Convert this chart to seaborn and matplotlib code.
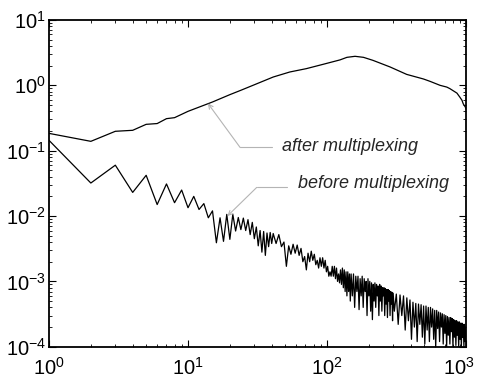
import numpy as np
import pandas as pd
import matplotlib
matplotlib.use("Agg")
import matplotlib.pyplot as plt
import matplotlib.transforms as mtransforms
import seaborn as sns

# ---------------------------------------------------
# data
# ---------------------------------------------------
after_x = [1, 2, 3, 4, 5, 6, 7, 8, 10, 15, 20, 24, 30, 41, 54, 71, 94, 124, 139, 159,
           183, 214, 284, 374, 494, 551, 650, 727, 765, 860, 902, 935, 955, 985, 1000]
after_y = [0.184, 0.139, 0.198, 0.205, 0.253, 0.26, 0.309, 0.32, 0.40, 0.556, 0.72,
           0.84, 1.02, 1.34, 1.6, 1.8, 2.1, 2.45, 2.68, 2.78, 2.68, 2.41, 1.91, 1.47,
           1.25, 1.15, 1.0, 0.94, 0.89, 0.76, 0.66, 0.59, 0.52, 0.47, 0.44]

# before multiplexing: sample index ranges and the values read in each range
before_x1 = np.arange(1, 41)
before_y1 = [0.144, 0.032, 0.060, 0.023, 0.042, 0.015, 0.031, 0.016, 0.025, 0.0134,
             0.020, 0.0126, 0.0155, 0.0094, 0.012, 0.0039, 0.0094, 0.0041, 0.0106, 0.0044,
             0.0106, 0.0059, 0.0095, 0.0062, 0.0093, 0.0060, 0.0088, 0.0052, 0.0080, 0.0045,
             0.0068, 0.0035, 0.0060, 0.0028, 0.0058, 0.0025, 0.0055, 0.0034, 0.0056, 0.0038]

before_x2 = np.arange(41, 150, 2)
before_y2 = [0.0054, 0.0038, 0.0052, 0.0034, 0.0040, 0.0017, 0.0035, 0.0026, 0.0037, 0.0027,
             0.0036, 0.0025, 0.0032, 0.0020, 0.0024, 0.0015, 0.0027, 0.0020, 0.0029, 0.0021,
             0.0026, 0.0018, 0.0021, 0.0016, 0.0023, 0.0017, 0.0023, 0.0016, 0.0021, 0.0014,
             0.0017, 0.0012, 0.0014, 0.0012, 0.0017, 0.0012, 0.0017, 0.0011, 0.0016, 0.0010,
             0.0013, 0.00095, 0.0015, 0.0009, 0.0016, 0.0008, 0.0015, 0.0007, 0.0014, 0.0006,
             0.0014, 0.0007, 0.0013, 0.0005, 0.0013]

before_x3 = np.arange(152, 300, 3)
before_y3 = [0.0006, 0.0013, 0.0004, 0.0012, 0.0007, 0.0012, 0.00037, 0.0011, 0.0006, 0.0012,
             0.0004, 0.0011, 0.0007, 0.0010, 0.0003, 0.0011, 0.0006, 0.0010, 0.00035, 0.00095,
             0.00026, 0.0009, 0.0005, 0.00095, 0.0004, 0.0009, 0.0006, 0.00085, 0.0003, 0.0009,
             0.0005, 0.00085, 0.00035, 0.0008, 0.0006, 0.0008, 0.0003, 0.00078, 0.00045, 0.00075,
             0.00028, 0.00075, 0.0005, 0.00072, 0.0003, 0.0007, 0.00045, 0.00068, 0.00025, 0.00066]

before_x4 = np.append(np.arange(305, 1000, 10), 1000)
before_y4 = [0.00035, 0.00064, 0.00022, 0.00062, 0.0003, 0.0006, 0.00018, 0.00056, 0.00025, 0.00052,
             0.00013, 0.00048, 0.0002, 0.00046, 0.00012, 0.00045, 0.00022, 0.00044, 0.00014, 0.00042,
             0.00011, 0.00042, 0.00018, 0.0004, 0.00012, 0.0004, 0.0002, 0.00038, 0.00013, 0.00036,
             0.0001, 0.00036, 0.00019, 0.00034, 0.00012, 0.00033, 0.0002, 0.00032, 0.00011, 0.00031,
             0.00016, 0.0003, 0.0001, 0.00029, 0.00015, 0.00028, 0.00011, 0.00028, 0.00017, 0.00027,
             0.0001, 0.00026, 0.00014, 0.00025, 0.000105, 0.00025, 0.00015, 0.00024, 0.0001, 0.00024,
             0.00013, 0.00023, 0.0001, 0.00023, 0.00014, 0.00022, 0.0001, 0.00022, 0.00012, 0.0002,
             0.00015]

label_after = "after multiplexing"
label_before = "before multiplexing"

# ---------------------------------------------------
# table for seaborn
# ---------------------------------------------------
before_x = np.concatenate([before_x1, before_x2, before_x3, before_x4])
before_y = np.concatenate([before_y1, before_y2, before_y3, before_y4])

df = pd.concat([
    pd.DataFrame({"freq": after_x, "amp": after_y, "series": "after"}),
    pd.DataFrame({"freq": before_x, "amp": before_y, "series": "before"}),
], ignore_index=True)

sns.set_style("ticks")
plt.rcParams["font.family"] = ["Liberation Sans", "DejaVu Sans"]
plt.rcParams["mathtext.fontset"] = "custom"
plt.rcParams["mathtext.rm"] = "Liberation Sans"
plt.rcParams["mathtext.it"] = "Liberation Sans:italic"

fig = plt.figure(figsize=(4.78, 3.84), dpi=100)
ax = fig.add_axes([0.1025, 0.097, 0.8725, 0.851])

sns.lineplot(data=df, x="freq", y="amp", hue="series",
             palette={"after": "black", "before": "black"},
             estimator=None, sort=False, legend=False, lw=0.9, ax=ax)

ax.set_xscale("log")
ax.set_yscale("log")
ax.set_xlim(1, 1000)
ax.set_ylim(1e-4, 10)
ax.set_xlabel("")
ax.set_ylabel("")

for side in ["top", "right", "left", "bottom"]:
    ax.spines[side].set_visible(True)
    ax.spines[side].set_linewidth(1.3)
    ax.spines[side].set_color("black")

ax.tick_params(which="both", direction="in", top=True, right=True, colors="black")
ax.tick_params(which="major", length=5, width=0.8, labelsize=14.5)
ax.tick_params(which="minor", length=2.5, width=0.6)
ax.tick_params(axis="x", which="major", pad=7)
ax.tick_params(axis="y", which="major", pad=2)

# last x label sits a little to the left so it stays inside the figure
fig.canvas.draw()
shift = mtransforms.ScaledTranslation(-7 / 100, 0, fig.dpi_scale_trans)
for lab in ax.get_xticklabels():
    if "3" in lab.get_text():
        lab.set_transform(lab.get_transform() + shift)

# leader lines with small arrow heads
gray = "#b4b4b4"
ax.annotate("", xy=(13.9, 0.53), xytext=(23.7, 0.112),
            arrowprops=dict(arrowstyle="->", color=gray, lw=0.8,
                            shrinkA=0, shrinkB=0, mutation_scale=8))
ax.plot([23.7, 40.2], [0.112, 0.112], color=gray, lw=0.8)
ax.text(47.5, 0.116, label_after, fontsize=13, style="italic", va="center", ha="left")

ax.annotate("", xy=(19.2, 0.0100), xytext=(31.2, 0.0274),
            arrowprops=dict(arrowstyle="->", color=gray, lw=0.8,
                            shrinkA=0, shrinkB=0, mutation_scale=8))
ax.plot([31.2, 51.3], [0.0274, 0.0274], color=gray, lw=0.8)
ax.text(61.8, 0.0319, label_before, fontsize=13, style="italic", va="center", ha="left")

fig.savefig("out.png", dpi=100)
